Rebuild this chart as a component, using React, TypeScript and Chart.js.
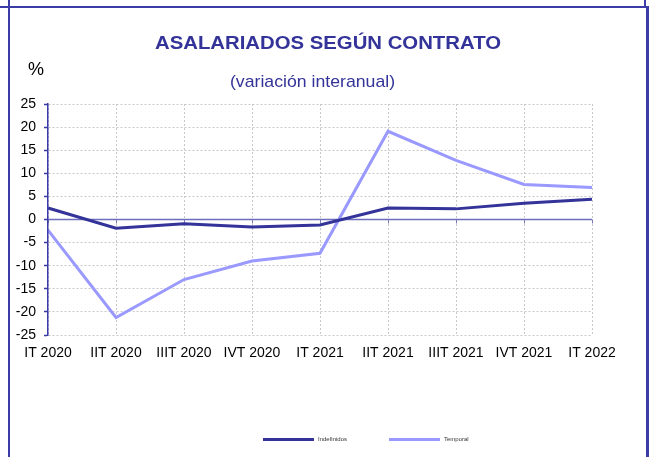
import React, { useEffect, useRef } from "react";
import { Chart, registerables } from "chart.js";

Chart.register(...registerables);

const categories = [
  "IT 2020", "IIT 2020", "IIIT 2020", "IVT 2020", "IT 2021",
  "IIT 2021", "IIIT 2021", "IVT 2021", "IT 2022",
];
const indefinidos = [2.5, -1.9, -0.9, -1.6, -1.2, 2.5, 2.3, 3.5, 4.4];
const temporal = [-2.3, -21.2, -13.0, -9.0, -7.3, 19.1, 12.8, 7.6, 6.9];
const yMin = -25;
const yMax = 25;
const yStep = 5;

const NAVY = "#333399";
const LIGHT = "#9999ff";
const FRAME = "#3c3ca6";

const zeroLinePlugin = {
  id: "zeroLine",
  beforeDatasetsDraw(chart: any) {
    const { ctx, chartArea, scales } = chart;
    const y = scales.y.getPixelForValue(0);
    ctx.save();
    ctx.strokeStyle = "#6e6ec0";
    ctx.lineWidth = 1.5;
    ctx.beginPath();
    ctx.moveTo(chartArea.left, y);
    ctx.lineTo(chartArea.right, y);
    ctx.stroke();
    ctx.lineWidth = 1;
    ctx.strokeStyle = "#7a7ab8";
    categories.forEach((_, i) => {
      const x = Math.round(scales.x.getPixelForValue(i)) + 0.5;
      ctx.beginPath();
      ctx.moveTo(x, y);
      ctx.lineTo(x, y + 4);
      ctx.stroke();
    });
    ctx.restore();
  },
};

export default function App() {
  const ref = useRef<HTMLCanvasElement>(null);
  useEffect(() => {
    if (!ref.current) return;
    const chart = new Chart(ref.current, {
      type: "line",
      data: {
        labels: categories,
        datasets: [
          {
            label: "Indefinidos",
            data: indefinidos,
            borderColor: NAVY,
            backgroundColor: NAVY,
            borderWidth: 3,
            pointRadius: 0,
            tension: 0,
          },
          {
            label: "Temporal",
            data: temporal,
            borderColor: LIGHT,
            backgroundColor: LIGHT,
            borderWidth: 3,
            pointRadius: 0,
            tension: 0,
          },
        ],
      },
      options: {
        responsive: false,
        animation: false,
        devicePixelRatio: 1,
        layout: { padding: { left: 0, top: 104, right: 62, bottom: 92 } },
        plugins: {
          legend: { display: false },
          title: { display: false },
          tooltip: { enabled: false },
        },
        scales: {
          x: {
            type: "category",
            offset: false,
            grid: {
              display: true,
              color: "#c8c8c8",
              drawTicks: false,
              lineWidth: 1,
            },
            border: { display: false, dash: [2, 2] },
            ticks: {
              color: "#000",
              font: { family: "Liberation Sans, Arial", size: 14 },
              padding: 10,
              maxRotation: 0,
              autoSkip: false,
            },
            afterFit: (s: any) => {
              s.height = 30;
            },
          },
          y: {
            min: yMin,
            max: yMax,
            grid: {
              color: "#c8c8c8",
              lineWidth: 1,
              tickLength: 4,
              tickColor: "#3a3aa6",
              tickBorderDash: [],
              tickWidth: 1.5,
            },
            border: { display: true, color: "#3a3aa6", width: 1.5, z: 2, dash: [2, 2] },
            ticks: {
              stepSize: yStep,
              color: "#000",
              font: { family: "Liberation Sans, Arial", size: 14 },
              padding: 8,
            },
            afterFit: (s: any) => {
              s.width = 48;
            },
          },
        },
      },
      plugins: [zeroLinePlugin],
    });
    return () => chart.destroy();
  }, []);

  const abs: React.CSSProperties = { position: "absolute" };
  return (
    <div
      style={{
        position: "fixed",
        left: 0,
        top: 0,
        width: 654,
        height: 457,
        background: "#fff",
        overflow: "hidden",
        fontFamily: "Liberation Sans, Arial, sans-serif",
      }}
    >
      <canvas ref={ref} width={654} height={457} style={{ ...abs, left: 0, top: 0, width: 654, height: 457 }} />
      {/* frame */}
      <div style={{ ...abs, left: 0, top: 6, width: 647, height: 2, background: FRAME }} />
      <div style={{ ...abs, left: 8, top: 0, width: 2, height: 457, background: FRAME }} />
      <div style={{ ...abs, left: 644, top: 0, width: 2, height: 7, background: FRAME }} />
      <div style={{ ...abs, left: 646, top: 6, width: 3, height: 451, background: FRAME }} />
      {/* titles */}
      <div
        style={{
          ...abs,
          left: 0,
          width: 656,
          top: 32,
          textAlign: "center",
          fontWeight: "bold",
          fontSize: 19,
          color: NAVY,
          whiteSpace: "nowrap",
          transform: "scaleX(1.07)",
          lineHeight: "22px",
        }}
      >
        ASALARIADOS SEGÚN CONTRATO
      </div>
      <div style={{ ...abs, left: 28, top: 58, fontSize: 18, color: "#000", lineHeight: "22px" }}>%</div>
      <div
        style={{
          ...abs,
          left: 0,
          width: 625,
          top: 72,
          textAlign: "center",
          fontSize: 17,
          color: NAVY,
          whiteSpace: "nowrap",
          transform: "scaleX(1.04)",
          lineHeight: "20px",
        }}
      >
        (variación interanual)
      </div>
      {/* legend */}
      <div style={{ ...abs, left: 263, top: 438, width: 51, height: 3, background: NAVY }} />
      <div style={{ ...abs, left: 318, top: 435, fontSize: 6, color: "#333", lineHeight: "8px" }}>Indefinidos</div>
      <div style={{ ...abs, left: 389, top: 438, width: 51, height: 3, background: LIGHT }} />
      <div style={{ ...abs, left: 444, top: 435, fontSize: 6, color: "#333", lineHeight: "8px" }}>Temporal</div>
    </div>
  );
}
